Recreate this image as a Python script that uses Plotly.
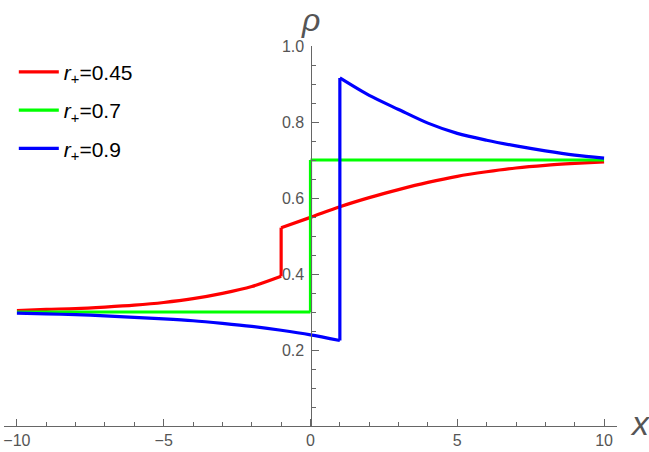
import plotly.graph_objects as go

# ---- data ----
# r+=0.45 (red): left branch up to the jump at x=-1, right branch after it
red_left_x = [-10, -9, -8, -7, -6, -5, -4, -3, -2, -1]
red_left_y = [0.304, 0.307, 0.309, 0.313, 0.318, 0.325, 0.335, 0.349, 0.367, 0.394]
red_right_x = [-1, 0, 1, 2, 3, 4, 5, 6, 7, 8, 9, 10]
red_right_y = [0.522, 0.549, 0.577, 0.601, 0.622, 0.641, 0.657, 0.669, 0.679, 0.686, 0.691, 0.695]

# r+=0.7 (green): jump at x=0
green_left_x = [-10, 0]
green_left_y = [0.300, 0.300]
green_right_x = [0, 10]
green_right_y = [0.700, 0.700]

# r+=0.9 (blue): jump at x=1
blue_left_x = [-10, -9, -8, -7, -6, -5, -4, -3, -2, -1, 0, 1]
blue_left_y = [0.297, 0.295, 0.293, 0.290, 0.286, 0.282, 0.277, 0.270, 0.262, 0.252, 0.240, 0.225]
blue_right_x = [1, 2, 3, 4, 5, 6, 7, 8, 9, 10]
blue_right_y = [0.916, 0.870, 0.833, 0.797, 0.770, 0.752, 0.737, 0.724, 0.713, 0.705]

names = ["<i>r</i><sub>+</sub>=0.45", "<i>r</i><sub>+</sub>=0.7", "<i>r</i><sub>+</sub>=0.9"]
colors = ["#FF0000", "#00FF00", "#0000FF"]

x_ticks = [-10, -5, 0, 5, 10]
x_tick_text = ["\u221210", "\u22125", "0", "5", "10"]
y_ticks = [0.2, 0.4, 0.6, 0.8, 1.0]
y_tick_text = ["0.2", "0.4", "0.6", "0.8", "1.0"]

AX = "#666666"
TXT = "#555555"
FONT = "Arial, Liberation Sans, sans-serif"

series = [
    (red_left_x, red_left_y, red_right_x, red_right_y),
    (green_left_x, green_left_y, green_right_x, green_right_y),
    (blue_left_x, blue_left_y, blue_right_x, blue_right_y),
]

fig = go.Figure()
for i, (lx, ly, rx, ry) in enumerate(series):
    g = str(i)
    ln = dict(color=colors[i], width=3.2)
    fig.add_trace(go.Scatter(x=lx, y=ly, mode="lines", name=names[i], legendgroup=g,
                             line=dict(ln, shape="spline", smoothing=0.8)))
    # vertical jump connecting the two branches
    fig.add_trace(go.Scatter(x=[lx[-1], rx[0]], y=[ly[-1], ry[0]], mode="lines",
                             legendgroup=g, showlegend=False, line=ln))
    fig.add_trace(go.Scatter(x=rx, y=ry, mode="lines", legendgroup=g, showlegend=False,
                             line=dict(ln, shape="spline", smoothing=0.8)))

fig.update_layout(
    width=649, height=452,
    margin=dict(l=4, r=32, t=46, b=26),
    plot_bgcolor="white", paper_bgcolor="white",
    showlegend=True,
    legend=dict(x=0.016, y=0.985, xanchor="left", yanchor="top",
                font=dict(family=FONT, size=21, color="black"),
                itemwidth=40,
                tracegroupgap=8, bgcolor="rgba(0,0,0,0)"),
    xaxis=dict(range=[-10.44, 10.44], domain=[0, 1], showgrid=False, zeroline=False,
               automargin=False,
               showline=True, linecolor=AX, linewidth=1.2,
               ticks="inside", ticklen=7, tickcolor=AX, tickwidth=1.2,
               tickvals=x_ticks, ticktext=x_tick_text,
               tickfont=dict(family=FONT, size=16, color=TXT),
               minor=dict(dtick=1, ticks="inside", ticklen=4, tickcolor=AX, tickwidth=1.2, showgrid=False)),
    yaxis=dict(range=[0, 1.0], anchor="free", position=0.5, showgrid=False, zeroline=False,
               automargin=False,
               showline=True, linecolor=AX, linewidth=1.2,
               ticks="inside", ticklen=7, tickcolor=AX, tickwidth=1.2,
               tickvals=y_ticks, ticktext=y_tick_text, ticklabelstandoff=3,
               tickfont=dict(family=FONT, size=16, color=TXT),
               minor=dict(dtick=0.05, ticks="inside", ticklen=4, tickcolor=AX, tickwidth=1.2, showgrid=False)),
)

fig.add_annotation(text="<i>\u03c1</i>", x=0, xref="x", y=1.0, yref="paper",
                   xanchor="center", yanchor="bottom", yshift=6, showarrow=False,
                   font=dict(family=FONT, size=32, color=TXT))
fig.add_annotation(text="<i>x</i>", x=1.0, xref="paper", y=0, yref="paper",
                   xanchor="left", yanchor="middle", xshift=11, yshift=3, showarrow=False,
                   font=dict(family=FONT, size=34, color=TXT))

fig.write_html("out.html", config={"displayModeBar": False},
               post_script="document.body.style.margin='0';")
